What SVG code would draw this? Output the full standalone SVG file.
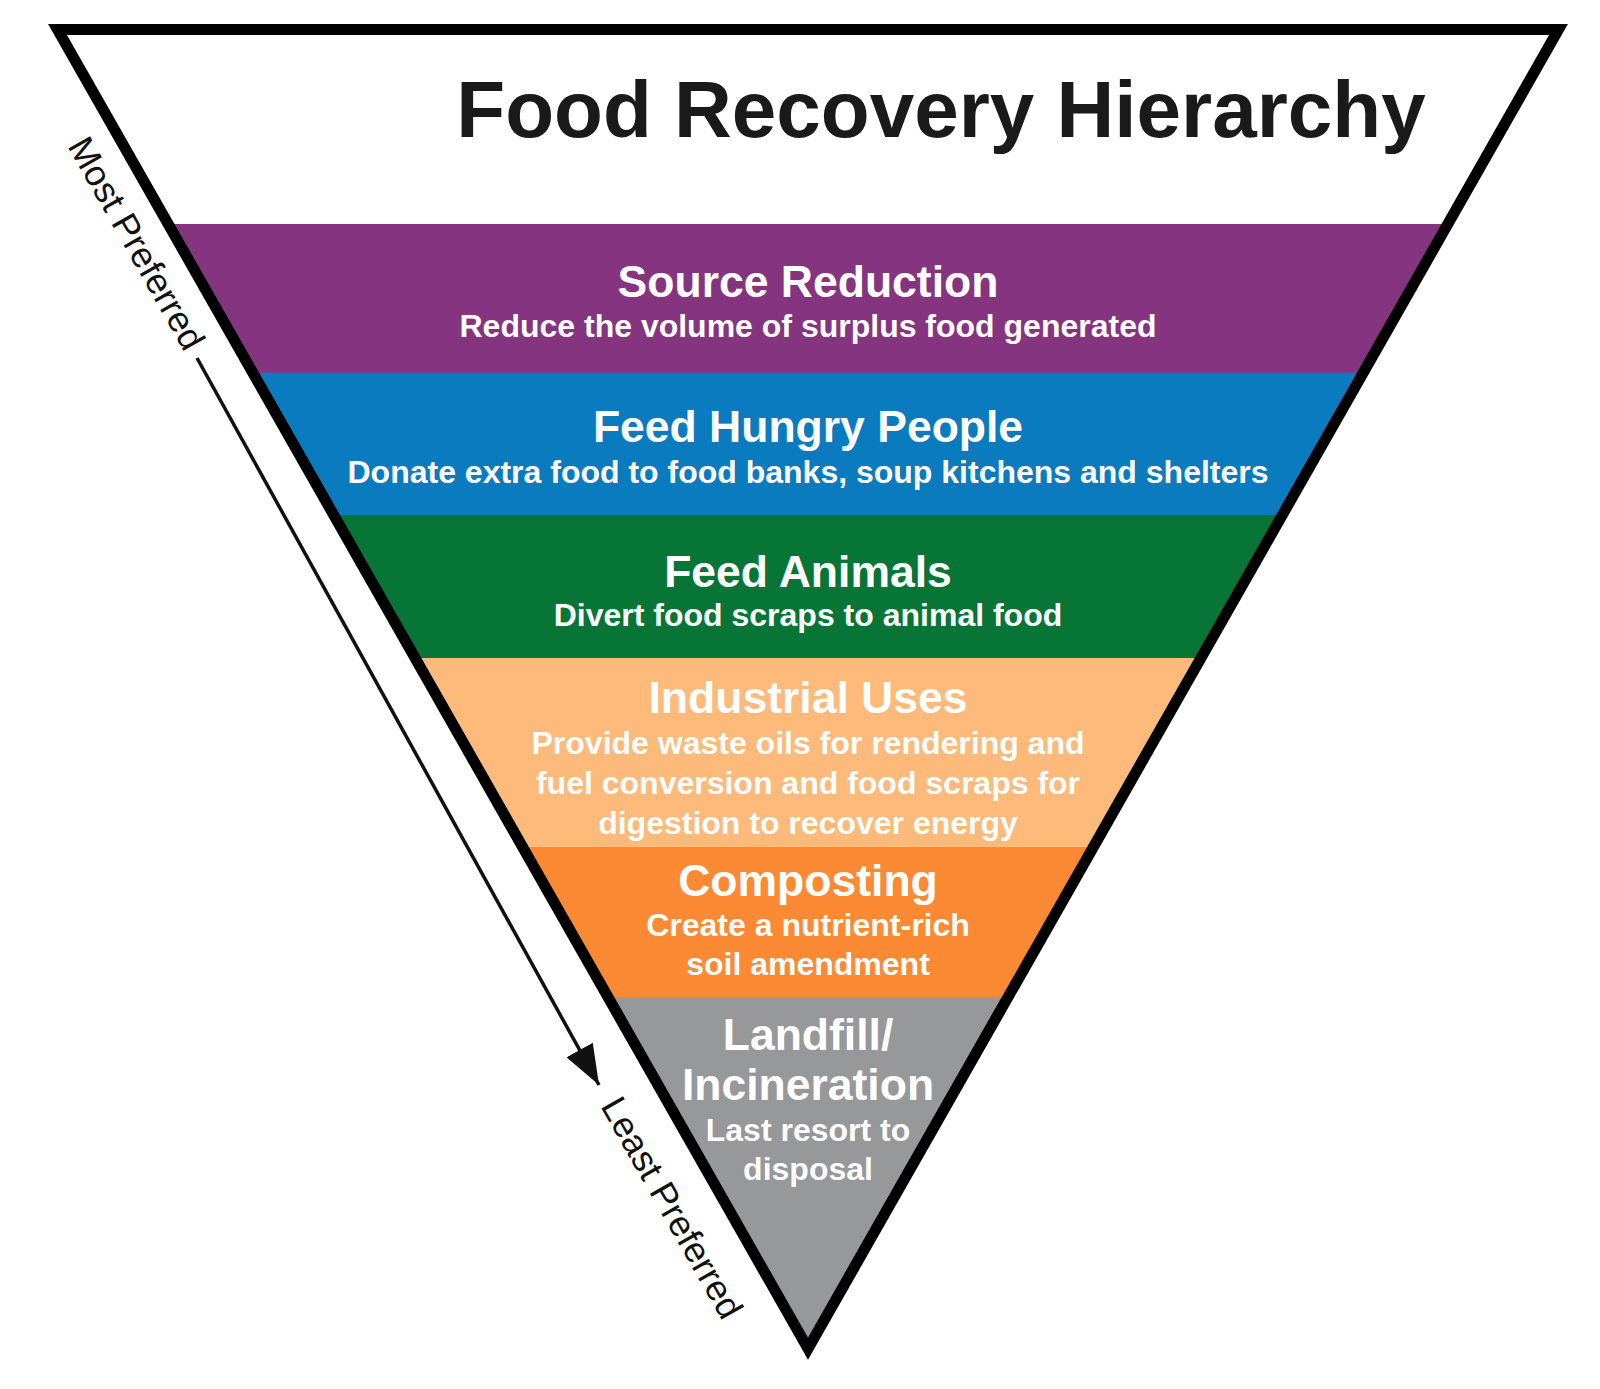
<svg xmlns="http://www.w3.org/2000/svg" width="1600" height="1389" viewBox="0 0 1600 1389">
  <style>
    .head { font-family: "Liberation Sans", Arial, sans-serif; font-weight: bold; font-size: 44.5px; fill: #ffffff; text-anchor: middle; }
    .sub { font-family: "Liberation Sans", Arial, sans-serif; font-weight: bold; font-size: 32px; fill: #ffffff; text-anchor: middle; }
    .title { font-family: "Liberation Sans", Arial, sans-serif; font-weight: bold; font-size: 80px; fill: #1a1a1a; text-anchor: middle; }
    .side { font-family: "Liberation Sans", Arial, sans-serif; font-size: 36px; fill: #111111; }
  </style>
  <defs>
    <clipPath id="tri">
      <polygon points="57.5,29.5 1558.5,29.5 808,1348.6"/>
    </clipPath>
    <marker id="arrow" markerUnits="userSpaceOnUse" markerWidth="40" markerHeight="30" refX="40" refY="15" orient="auto">
      <path d="M0,0 L40,15 L0,30 Z" fill="#111111"/>
    </marker>
  </defs>
  <rect x="0" y="0" width="1600" height="1389" fill="#ffffff"/>

  <g clip-path="url(#tri)">
    <g id="source-reduction">
      <rect x="0" y="224" width="1600" height="149" fill="#85347f"/>
      <text class="head" x="808" y="297">Source Reduction</text>
      <text class="sub" x="808" y="337">Reduce the volume of surplus food generated</text>
    </g>
    <g id="feed-hungry-people">
      <rect x="0" y="372.7" width="1600" height="143" fill="#0b7bc0"/>
      <text class="head" x="808" y="442">Feed Hungry People</text>
      <text class="sub" x="808" y="483">Donate extra food to food banks, soup kitchens and shelters</text>
    </g>
    <g id="feed-animals">
      <rect x="0" y="515" width="1600" height="143.5" fill="#077536"/>
      <text class="head" x="808" y="587">Feed Animals</text>
      <text class="sub" x="808" y="626">Divert food scraps to animal food</text>
    </g>
    <g id="industrial-uses">
      <rect x="0" y="658" width="1600" height="189.5" fill="#fdba7b"/>
      <text class="head" x="808" y="713">Industrial Uses</text>
      <text class="sub" x="808" y="754">Provide waste oils for rendering and</text>
      <text class="sub" x="808" y="794">fuel conversion and food scraps for</text>
      <text class="sub" x="808" y="834">digestion to recover energy</text>
    </g>
    <g id="composting">
      <rect x="0" y="847" width="1600" height="150.5" fill="#fc8a35"/>
      <text class="head" x="808" y="896">Composting</text>
      <text class="sub" x="808" y="936">Create a nutrient-rich</text>
      <text class="sub" x="808" y="975">soil amendment</text>
    </g>
    <g id="landfill-incineration">
      <rect x="0" y="997" width="1600" height="392" fill="#96989a"/>
      <text class="head" x="808" y="1050">Landfill/</text>
      <text class="head" x="808" y="1100">Incineration</text>
      <text class="sub" x="808" y="1141">Last resort to</text>
      <text class="sub" x="808" y="1180">disposal</text>
    </g>
  </g>

  <g id="frame">
    <polygon points="57.5,29.5 1558.5,29.5 808,1348.6" fill="none" stroke="#000000" stroke-width="11" stroke-linejoin="miter" stroke-miterlimit="10"/>
  </g>

  <g id="title">
    <text class="title" x="941" y="137">Food Recovery Hierarchy</text>
  </g>

  <g id="labels">
    <text class="side" transform="translate(67,146) rotate(60.36)">Most Preferred</text>
    <text class="side" transform="translate(600,1106) rotate(60.36)">Least Preferred</text>
  </g>

  <g id="connectors">
    <line x1="197" y1="358" x2="599" y2="1085" stroke="#111111" stroke-width="3.5" marker-end="url(#arrow)"/>
  </g>
</svg>
